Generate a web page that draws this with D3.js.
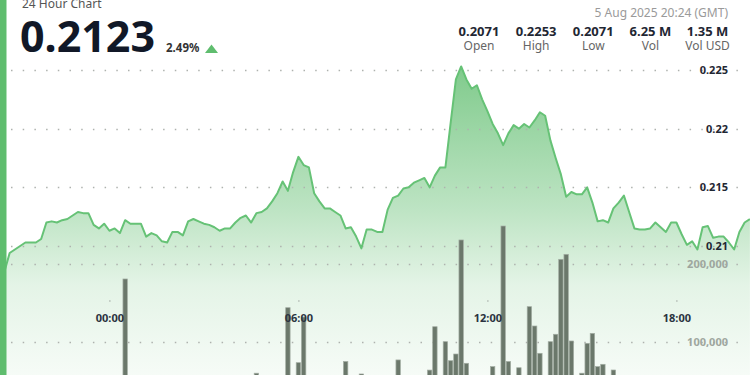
<!DOCTYPE html>
<html>
<head>
<meta charset="utf-8">
<script src="https://cdnjs.cloudflare.com/ajax/libs/d3/7.8.5/d3.min.js"></script>
<style>
  html, body { margin: 0; padding: 0; background: #fff; }
  #chart { width: 750px; height: 375px; overflow: hidden; }
  svg { display: block; font-family: "Noto Sans", "Open Sans", sans-serif; }
</style>
</head>
<body>
<div id="chart"></div>
<script>
// price every 10 minutes, first point 4 Aug 2025 20:30 GMT
const priceStart = Date.UTC(2025, 7, 4, 20, 30);
const priceStepMinutes = 10;
const priceValues = [
    0.2071, 0.2078, 0.2094, 0.2097, 0.2100, 0.2103, 0.2103, 0.2103, 0.2106, 0.2120,
    0.2121, 0.2120, 0.2122, 0.2123, 0.2126, 0.2129, 0.2128, 0.2128, 0.2118, 0.2115,
    0.2119, 0.2113, 0.2115, 0.2111, 0.2122, 0.2119, 0.2119, 0.2119, 0.2108, 0.2111,
    0.2109, 0.2104, 0.2103, 0.2112, 0.2112, 0.2109, 0.2121, 0.2123, 0.2121, 0.2119,
    0.2118, 0.2116, 0.2113, 0.2115, 0.2115, 0.2120, 0.2124, 0.2126, 0.2120, 0.2128,
    0.2129, 0.2132, 0.2138, 0.2145, 0.2155, 0.2147, 0.2163, 0.2176, 0.2169, 0.2167,
    0.2145, 0.2138, 0.2132, 0.2132, 0.2129, 0.2126, 0.2115, 0.2116, 0.2108, 0.2098,
    0.2114, 0.2114, 0.2112, 0.2112, 0.2131, 0.2141, 0.2143, 0.2149, 0.2150, 0.2154,
    0.2156, 0.2158, 0.2150, 0.2160, 0.2167, 0.2167, 0.2205, 0.2242, 0.2253, 0.2242,
    0.2234, 0.2237, 0.2225, 0.2215, 0.2204, 0.2196, 0.2186, 0.2196, 0.2203, 0.2200,
    0.2204, 0.2201, 0.2207, 0.2214, 0.2211, 0.2190, 0.2175, 0.2161, 0.2142, 0.2146,
    0.2144, 0.2144, 0.2150, 0.2137, 0.2121, 0.2122, 0.2120, 0.2132, 0.2137, 0.2143,
    0.2129, 0.2115, 0.2114, 0.2114, 0.2115, 0.2120, 0.2116, 0.2112, 0.2120, 0.2120,
    0.2110, 0.2101, 0.2104, 0.2097, 0.2116, 0.2117, 0.2107, 0.2108, 0.2108, 0.2103,
    0.2097, 0.2112, 0.2120, 0.2123
];

// volume bars that reach into the visible area (slot = index of the 10 min step)
const volumeSlots = [24, 49, 55, 57, 58, 66, 69, 76, 82, 83, 85, 86, 87, 88, 89, 94, 96,
    97, 99, 101, 102, 103, 105, 106, 107, 108, 109, 111, 112, 113, 114, 115, 117];
const volumeValues = [180800, 60000, 144000, 73500, 132000, 75000, 59000, 77000, 64000,
    119600, 100400, 76000, 84600, 230800, 72700, 68400, 248700, 75000, 67000, 145300,
    120500, 85500, 100400, 109900, 206000, 212400, 101300, 60000, 98300, 111100, 68400,
    71400, 64100];

const priceTicks = [0.21, 0.215, 0.22, 0.225];
const volumeTicks = [100000, 200000];

const lastPrice = "0.2123";
const changePct = "2.49%";
const updatedAt = "5 Aug 2025 20:24 (GMT)";
const statValues = ["0.2071", "0.2253", "0.2071", "6.25 M", "1.35 M"];
const statLabels = ["Open", "High", "Low", "Vol", "Vol USD"];

class PriceChart {

    constructor(parentElement) {
        this.parentElement = parentElement;
        this.initVis();
    }

    initVis() {
        let vis = this;

        vis.width = 750;
        vis.height = 375;
        vis.green = "#5fbd6e";

        vis.svg = d3.select("#" + vis.parentElement)
            .append("svg")
            .attr("width", vis.width)
            .attr("height", vis.height);

        // build rows from the arrays
        vis.prices = priceValues.map((v, i) => ({
            date: new Date(priceStart + i * priceStepMinutes * 60000),
            value: v
        }));
        vis.volumes = volumeSlots.map((s, i) => ({
            date: new Date(priceStart + s * priceStepMinutes * 60000),
            value: volumeValues[i]
        }));

        // scales
        vis.x = d3.scaleUtc()
            .domain([new Date(Date.UTC(2025, 7, 4, 20, 24)), new Date(Date.UTC(2025, 7, 5, 20, 24))])
            .range([-4, 752]);

        vis.y = d3.scaleLinear()
            .domain([0.21, 0.225])
            .range([246, 70]);

        vis.yVol = d3.scaleLinear()
            .domain([0, 200000])
            .range([420, 264]);

        // gradient for the area under the line
        let grad = vis.svg.append("defs").append("linearGradient")
            .attr("id", "areaGrad")
            .attr("gradientUnits", "userSpaceOnUse")
            .attr("x1", 0).attr("x2", 0)
            .attr("y1", 64).attr("y2", 420);
        grad.append("stop").attr("offset", "0%").attr("stop-color", vis.green).attr("stop-opacity", 0.8);
        grad.append("stop").attr("offset", "40%").attr("stop-color", vis.green).attr("stop-opacity", 0.42);
        grad.append("stop").attr("offset", "62%").attr("stop-color", vis.green).attr("stop-opacity", 0.17);
        grad.append("stop").attr("offset", "100%").attr("stop-color", vis.green).attr("stop-opacity", 0.0);

        vis.area = d3.area()
            .x(d => vis.x(d.date))
            .y0(420)
            .y1(d => vis.y(d.value));

        vis.line = d3.line()
            .x(d => vis.x(d.date))
            .y(d => vis.y(d.value));

        vis.updateVis();
    }

    updateVis() {
        let vis = this;

        vis.svg.append("path")
            .datum(vis.prices)
            .attr("fill", "url(#areaGrad)")
            .attr("d", vis.area);

        // dotted gridlines
        let grid = vis.svg.append("g").attr("class", "grid");
        let gridYs = priceTicks.map(t => vis.y(t)).concat(volumeTicks.map(t => vis.yVol(t)));
        grid.selectAll("line")
            .data(gridYs)
            .join("line")
            .attr("x1", 11)
            .attr("x2", 748)
            .attr("y1", d => Math.round(d) + 0.5)
            .attr("y2", d => Math.round(d) + 0.5)
            .attr("stroke", "#aeb2ae")
            .attr("stroke-width", 1.5)
            .attr("stroke-dasharray", "1.5 10.2");

        // volume bars
        let barW = 4.4;
        vis.svg.append("g")
            .selectAll("rect")
            .data(vis.volumes)
            .join("rect")
            .attr("x", d => vis.x(d.date) - barW / 2)
            .attr("y", d => vis.yVol(d.value))
            .attr("width", barW)
            .attr("height", d => 420 - vis.yVol(d.value))
            .attr("fill", "#6b786b")
            .attr("stroke", "#a3ada3")
            .attr("stroke-width", 0.7);

        // price line
        vis.svg.append("path")
            .datum(vis.prices)
            .attr("fill", "none")
            .attr("stroke", "#66c276")
            .attr("stroke-width", 2)
            .attr("stroke-linejoin", "round")
            .attr("d", vis.line);

        // price axis labels
        let yAxis = d3.axisLeft(vis.y)
            .tickValues(priceTicks)
            .tickSize(0)
            .tickPadding(0)
            .tickFormat(d3.format(""));
        let yAxisG = vis.svg.append("g")
            .attr("transform", "translate(728,0)")
            .call(yAxis);
        yAxisG.select(".domain").remove();
        yAxisG.selectAll("text")
            .attr("fill", "#1f2733")
            .style("font-size", "11px")
            .style("font-weight", "700")
            .style("font-family", "'Noto Sans', sans-serif");

        // volume axis labels
        let volAxis = d3.axisLeft(vis.yVol)
            .tickValues(volumeTicks)
            .tickSize(0)
            .tickPadding(0)
            .tickFormat(d3.format(","));
        let volAxisG = vis.svg.append("g")
            .attr("transform", "translate(728,0)")
            .call(volAxis);
        volAxisG.select(".domain").remove();
        volAxisG.selectAll("text")
            .attr("fill", "#9ea69e")
            .style("font-size", "11px")
            .style("font-weight", "700")
            .style("font-family", "'Noto Sans', sans-serif");

        // time axis
        let xAxis = d3.axisBottom(vis.x)
            .ticks(d3.utcHour.every(6))
            .tickSize(1)
            .tickPadding(13)
            .tickFormat(d3.utcFormat("%H:%M"));
        let xAxisG = vis.svg.append("g")
            .attr("transform", "translate(0,300.5)")
            .call(xAxis);
        xAxisG.select(".domain").remove();
        xAxisG.selectAll("line").attr("stroke", "#777");
        xAxisG.selectAll("text")
            .attr("fill", "#2a3340")
            .style("font-size", "11px")
            .style("font-weight", "700")
            .style("font-family", "'Noto Sans', sans-serif");

        // header
        vis.svg.append("text")
            .attr("x", 22).attr("y", 8)
            .attr("fill", "#555")
            .style("font-size", "12px")
            .text("24 Hour Chart");

        vis.svg.append("text")
            .attr("x", 20).attr("y", 52)
            .attr("fill", "#111827")
            .style("font-size", "43px")
            .style("font-weight", "700")
            .text(lastPrice);

        vis.svg.append("text")
            .attr("x", 166).attr("y", 52)
            .attr("fill", "#333")
            .style("font-size", "11.5px")
            .style("font-weight", "700")
            .text(changePct);

        vis.svg.append("path")
            .attr("d", "M205,53L211.5,44.5L218,53Z")
            .attr("fill", vis.green);

        vis.svg.append("text")
            .attr("x", 728).attr("y", 17)
            .attr("text-anchor", "end")
            .attr("fill", "#9a9a9a")
            .style("font-size", "12px")
            .text(updatedAt);

        let sx = d3.scalePoint().domain(statLabels).range([479, 707.5]);
        let stats = vis.svg.append("g")
            .selectAll("g")
            .data(statLabels)
            .join("g")
            .attr("transform", d => `translate(${sx(d)},0)`);
        stats.append("text")
            .attr("y", 36)
            .attr("text-anchor", "middle")
            .attr("fill", "#1f2733")
            .style("font-size", "13px")
            .style("font-weight", "700")
            .text((d, i) => statValues[i]);
        stats.append("text")
            .attr("y", 50)
            .attr("text-anchor", "middle")
            .attr("fill", "#666")
            .style("font-size", "12px")
            .text(d => d);

        // green strip at the left edge
        vis.svg.append("rect")
            .attr("x", 0).attr("y", 0)
            .attr("width", 6.5).attr("height", vis.height)
            .attr("fill", vis.green);
    }
}

new PriceChart("chart");
</script>
</body>
</html>
